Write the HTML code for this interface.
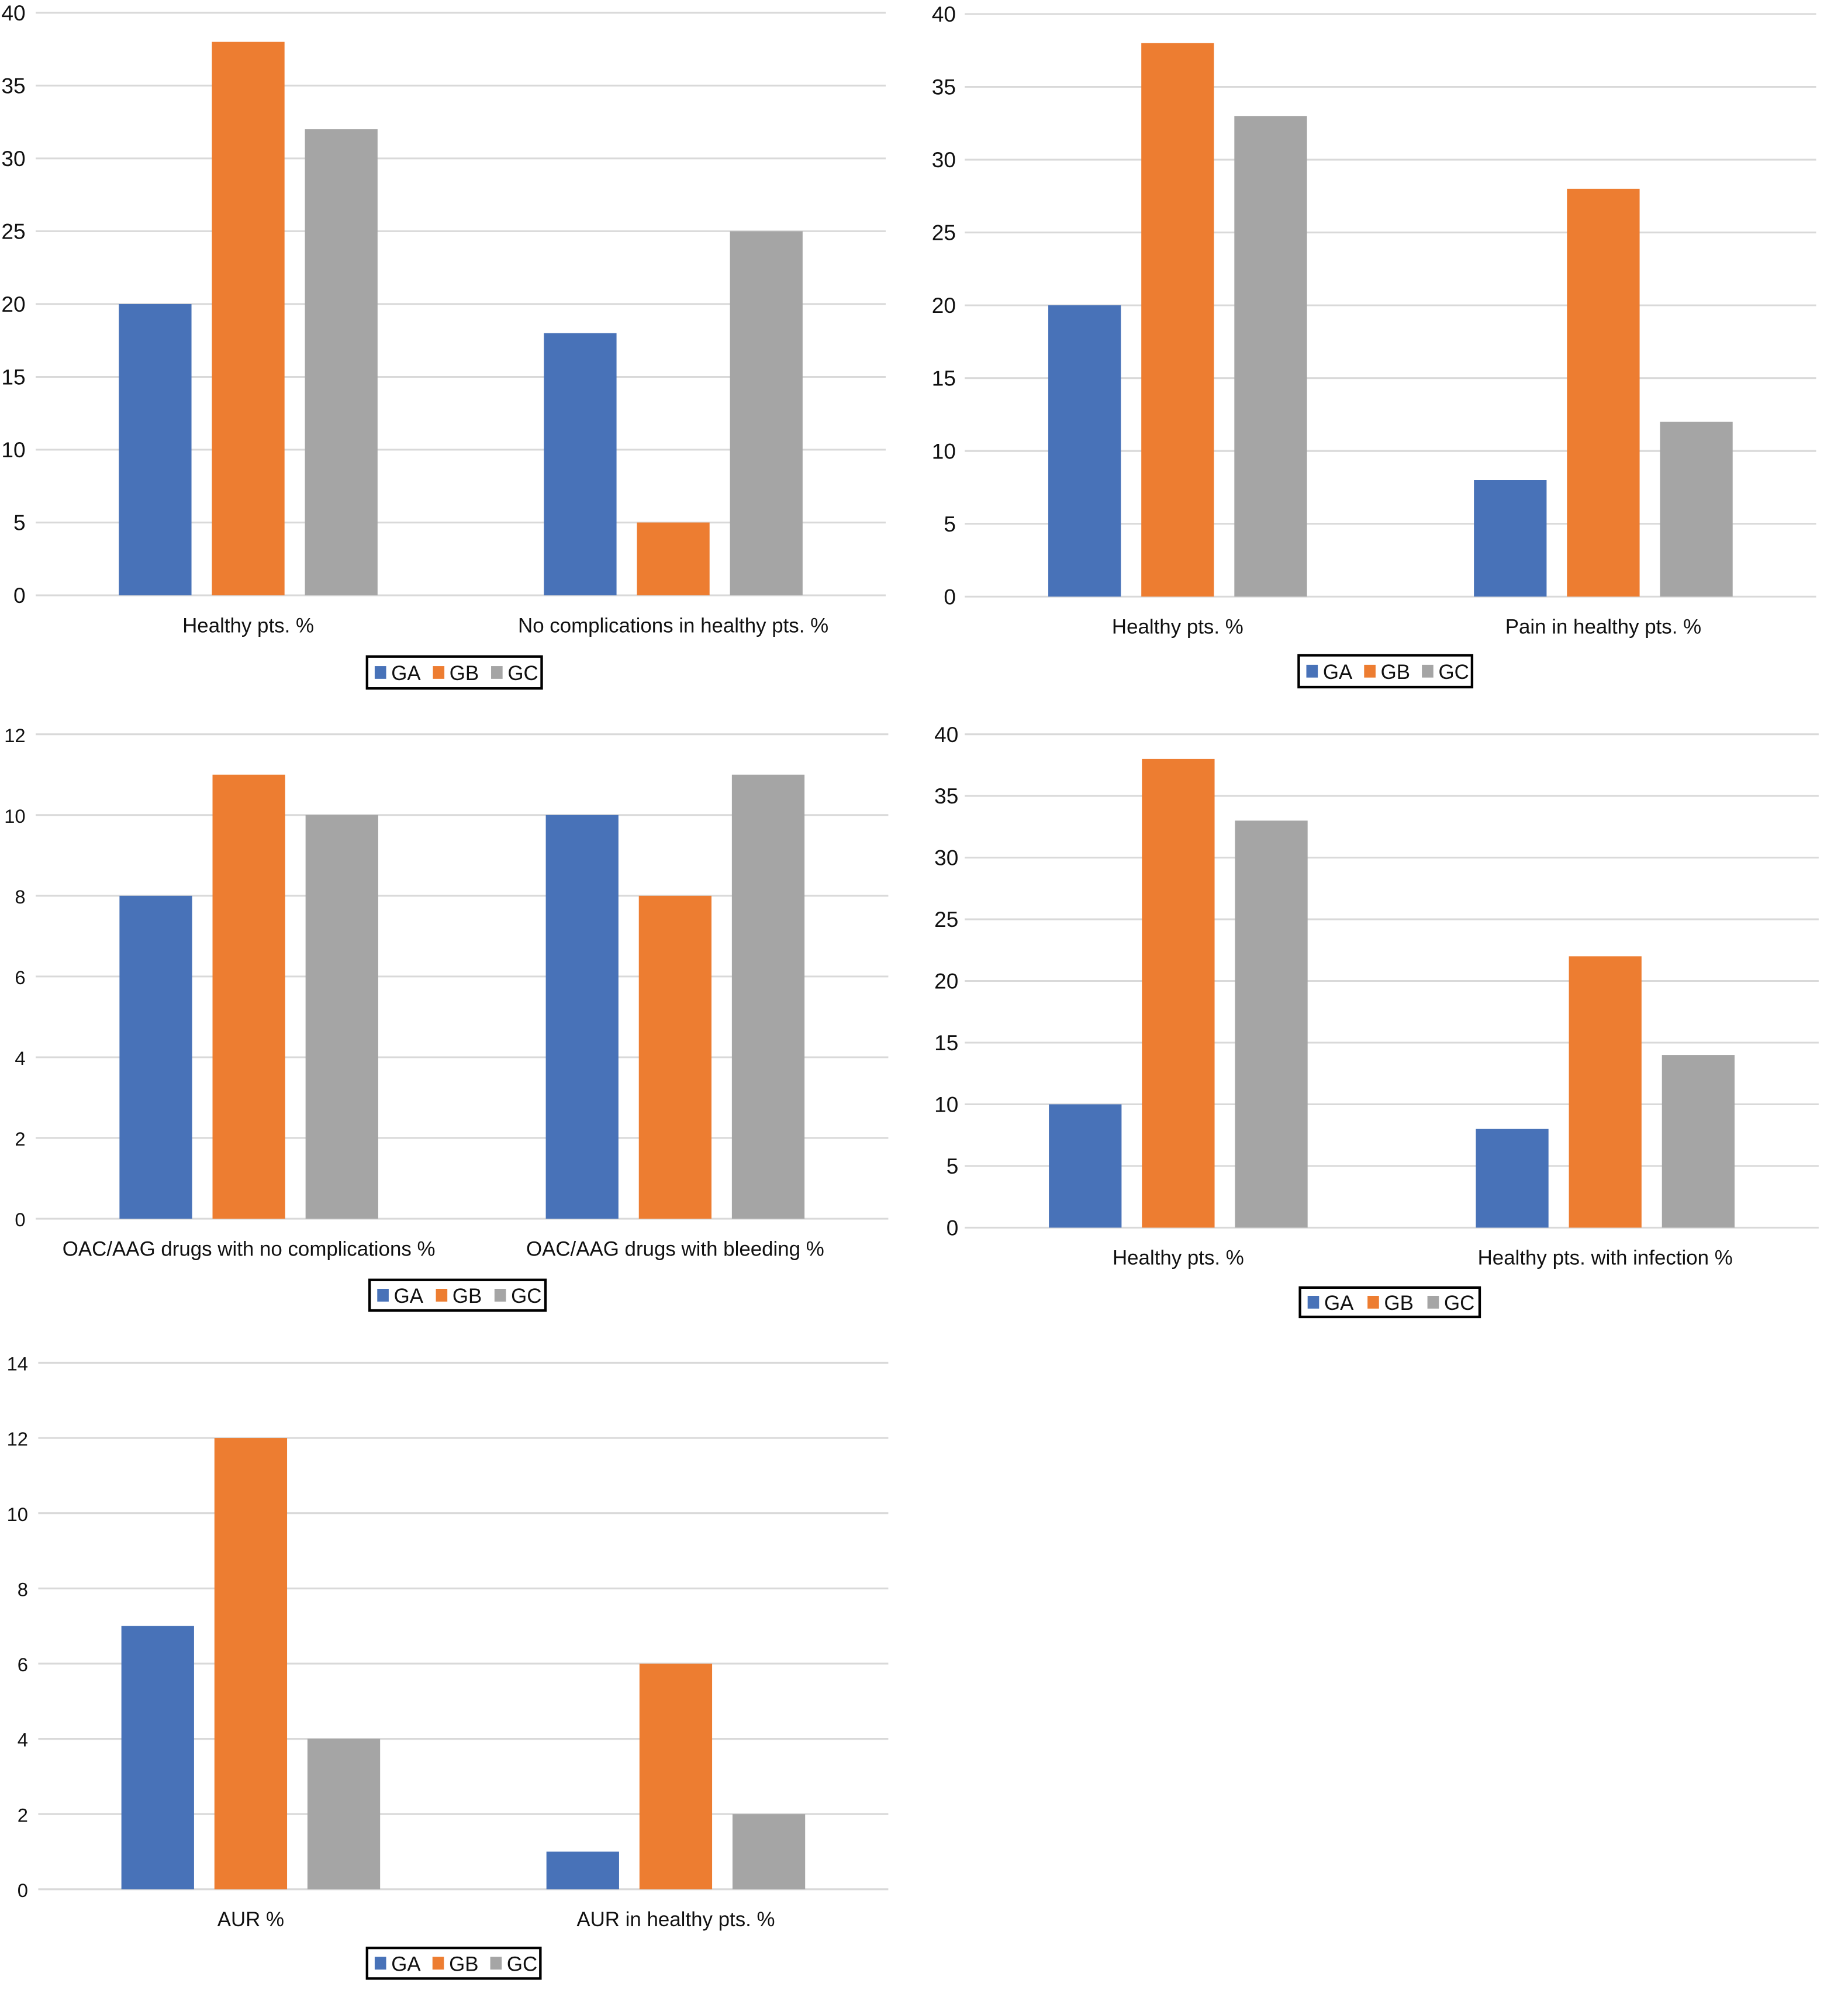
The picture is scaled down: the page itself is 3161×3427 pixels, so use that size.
<!DOCTYPE html>
<html><head><meta charset="utf-8">
<style>
html,body{margin:0;padding:0;background:#fff;}
svg{display:block;}
text{font-family:"Liberation Sans Narrow","Liberation Sans",sans-serif;fill:#111;}
</style></head>
<body>
<svg id="fig" width="3161" height="3427" viewBox="0 0 1450 1572" preserveAspectRatio="none" xmlns="http://www.w3.org/2000/svg"></svg>
<script>
const seriesNames = ["GA","GB","GC"];
const seriesColors = ["#4872b8","#ed7d31","#a5a5a5"];

const c1Categories = ["Healthy pts. %","No complications in healthy pts. %"];
const c1GA = [20,18];
const c1GB = [38,5];
const c1GC = [32,25];
const c1Ticks = [0,5,10,15,20,25,30,35,40];

const c2Categories = ["Healthy pts. %","Pain in healthy pts. %"];
const c2GA = [20,8];
const c2GB = [38,28];
const c2GC = [33,12];
const c2Ticks = [0,5,10,15,20,25,30,35,40];

const c3Categories = ["OAC/AAG drugs with no complications %","OAC/AAG drugs with bleeding %"];
const c3GA = [8,10];
const c3GB = [11,8];
const c3GC = [10,11];
const c3Ticks = [0,2,4,6,8,10,12];

const c4Categories = ["Healthy pts. %","Healthy pts. with infection %"];
const c4GA = [10,8];
const c4GB = [38,22];
const c4GC = [33,14];
const c4Ticks = [0,5,10,15,20,25,30,35,40];

const c5Categories = ["AUR %","AUR in healthy pts. %"];
const c5GA = [7,1];
const c5GB = [12,6];
const c5GC = [4,2];
const c5Ticks = [0,2,4,6,8,10,12,14];

const NS = "http://www.w3.org/2000/svg";
const svg = document.getElementById("fig");
function mk(tag, attrs, parent){
  const e = document.createElementNS(NS, tag);
  for (const k in attrs) e.setAttribute(k, attrs[k]);
  (parent||svg).appendChild(e);
  return e;
}

const layouts = [
  {id:"chart-1", cats:c1Categories, series:[c1GA,c1GB,c1GC], ticks:c1Ticks, x0:28, x1:695, yTop:10, yBot:467, tickX:20, tickFs:17, labY:496, leg:[288,515,137,25]},
  {id:"chart-2", cats:c2Categories, series:[c2GA,c2GB,c2GC], ticks:c2Ticks, x0:757, x1:1425, yTop:11, yBot:468, tickX:750, tickFs:17, labY:497, leg:[1019,514,136,25]},
  {id:"chart-3", cats:c3Categories, series:[c3GA,c3GB,c3GC], ticks:c3Ticks, x0:28, x1:697, yTop:576, yBot:956, tickX:20, tickFs:15, labY:985, leg:[290,1004,138,24]},
  {id:"chart-4", cats:c4Categories, series:[c4GA,c4GB,c4GC], ticks:c4Ticks, x0:757, x1:1427, yTop:576, yBot:963, tickX:752, tickFs:17, labY:992, leg:[1020,1010,141,23]},
  {id:"chart-5", cats:c5Categories, series:[c5GA,c5GB,c5GC], ticks:c5Ticks, x0:30, x1:697, yTop:1069, yBot:1482, tickX:22, tickFs:15, labY:1511, leg:[288,1528,136,24]}
];

layouts.forEach(L => {
  const g = mk("g", {});
  
  
  const maxV = L.ticks[L.ticks.length-1];
  const yScale = v => L.yBot - (v/maxV)*(L.yBot-L.yTop);
  const band = (L.x1-L.x0)/L.cats.length;
  const xCenter = i => L.x0 + band*(i+0.5);
  const barW = 57, step = 73;

  L.ticks.forEach(t => {
    const y = yScale(t);
    const gl = mk("line", {x1:L.x0, x2:L.x1, y1:y, y2:y, stroke:"#d9d9d9", "stroke-width":1.4}, g);
    
    
    const tl = mk("text", {x:L.tickX, y:y+6, "text-anchor":"end", "font-size":L.tickFs}, g);
    
    
    tl.textContent = t;
  });

  L.series.forEach((vals, s) => {
    vals.forEach((v, i) => {
      const x = xCenter(i) + (s-1)*step - barW/2;
      const y = yScale(v);
      const r = mk("rect", {x:x, y:y, width:barW, height:yScale(0)-y, fill:seriesColors[s]}, g);
      
      
    });
  });

  L.cats.forEach((c, i) => {
    const t = mk("text", {x:xCenter(i), y:L.labY, "text-anchor":"middle", "font-size":16}, g);
    
    
    t.textContent = c;
  });

  const [lx, ly, lw, lh] = L.leg;
  const lg = mk("g", {}, g);
  
  
  mk("rect", {x:lx, y:ly, width:lw, height:lh, fill:"#fff", stroke:"#000", "stroke-width":2}, lg);
  const slot = lw/3;
  seriesNames.forEach((n, s) => {
    const ex = lx + 6 + s*slot;
    const ent = mk("g", {}, lg);
    
    
    mk("rect", {x:ex, y:ly+lh/2-5, width:9, height:10, fill:seriesColors[s]}, ent);
    const tx = mk("text", {x:ex+13, y:ly+lh/2+6, "font-size":16}, ent);
    tx.textContent = n;
  });
});
</script>
</body></html>
